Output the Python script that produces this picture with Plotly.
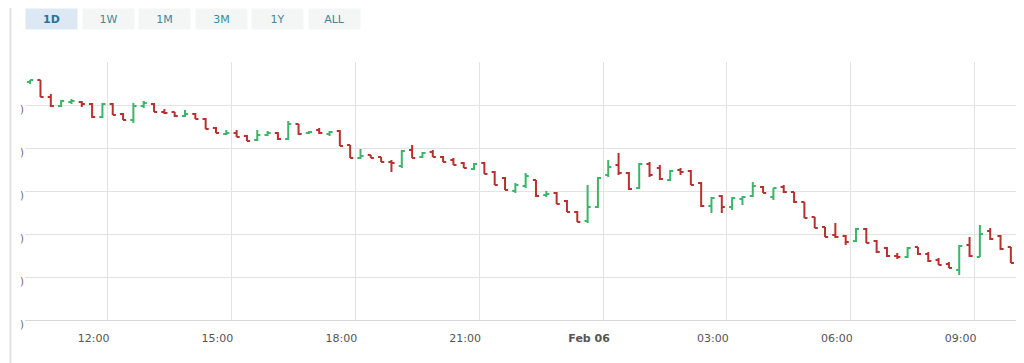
import pandas as pd
import plotly.graph_objects as go

# 15-minute bars, Feb 05 10:00 -> Feb 06 09:45
times = pd.date_range("2024-02-05 10:00", periods=96, freq="15min")

open_ = [23.8, 24.0, 22.3, 21.4, 21.8, 21.8, 21.6, 20.3, 21.6, 20.6, 20.0, 21.4,
         21.6, 20.8, 20.8, 20.4, 20.6, 20.1, 19.2, 18.6, 18.7, 18.4, 18.0, 18.5,
         18.7, 18.1, 19.6, 18.7, 19.0, 18.6, 18.9, 17.5, 16.2, 16.5, 16.3, 15.8,
         15.4, 17.0, 16.3, 16.8, 16.3, 16.0, 15.7, 15.1, 15.7, 14.8, 14.2, 12.9,
         13.4, 14.0, 12.5, 12.7, 11.9, 10.8, 9.9, 11.3, 14.5, 15.5, 14.7, 13.2,
         15.6, 15.2, 14.0, 15.0, 14.9, 13.7, 11.4, 12.4, 11.3, 12.1, 12.4, 13.3,
         12.3, 13.3, 12.8, 11.8, 10.3, 9.3, 8.5, 8.4, 7.9, 9.1, 7.9, 7.2,
         6.4, 6.3, 7.3, 6.6, 6.0, 5.6, 5.0, 7.5, 6.3, 8.9, 8.4, 7.3]
high = [24.0, 24.0, 22.6, 22.0, 22.1, 21.9, 21.7, 21.7, 21.7, 20.7, 21.7, 21.9,
        21.7, 21.1, 20.8, 21.0, 20.7, 20.2, 19.3, 19.0, 19.0, 18.5, 19.0, 18.9,
        18.8, 19.9, 19.6, 18.9, 19.2, 18.9, 19.0, 17.5, 17.1, 16.5, 16.3, 16.0,
        17.0, 17.5, 16.8, 17.0, 16.4, 16.2, 15.8, 15.7, 15.8, 14.9, 14.3, 13.7,
        14.7, 14.0, 12.9, 12.8, 12.0, 10.9, 13.5, 14.3, 16.0, 16.7, 14.8, 15.7,
        15.8, 15.5, 15.0, 15.2, 15.0, 13.8, 12.3, 12.5, 12.3, 12.4, 13.8, 13.4,
        13.2, 13.5, 12.8, 11.8, 10.3, 9.3, 9.7, 8.5, 9.2, 9.2, 8.0, 7.3,
        6.7, 7.3, 7.3, 6.8, 6.2, 5.8, 7.5, 8.3, 9.5, 9.2, 8.5, 7.3]
low = [23.6, 22.3, 21.3, 21.3, 21.6, 21.3, 20.2, 20.2, 20.5, 20.0, 19.7, 21.2,
       20.8, 20.6, 20.3, 20.3, 20.1, 19.1, 18.7, 18.5, 18.3, 17.9, 17.9, 18.4,
       18.0, 18.0, 18.5, 18.6, 18.6, 18.4, 17.4, 16.2, 16.1, 16.2, 15.8, 14.8,
       15.2, 16.2, 16.2, 16.3, 15.8, 15.5, 15.2, 15.0, 14.6, 13.5, 13.0, 12.7,
       13.2, 12.3, 12.3, 11.6, 10.8, 9.8, 9.7, 11.2, 14.3, 14.5, 13.0, 13.1,
       14.3, 14.0, 13.9, 14.5, 13.5, 11.3, 10.7, 10.7, 11.0, 11.5, 12.3, 12.7,
       12.0, 12.7, 11.7, 10.2, 9.2, 8.3, 8.2, 7.5, 7.8, 7.7, 6.7, 6.3,
       6.1, 6.2, 6.5, 5.8, 5.5, 5.2, 4.5, 6.3, 6.3, 8.0, 7.0, 5.7]
close = [24.0, 22.3, 21.4, 21.9, 21.9, 21.6, 20.3, 21.6, 20.5, 20.0, 21.4, 21.7,
         20.8, 20.7, 20.4, 20.6, 20.1, 19.1, 18.7, 18.7, 18.3, 17.9, 18.5, 18.7,
         18.1, 19.6, 18.6, 18.8, 18.7, 18.8, 17.4, 16.2, 16.4, 16.2, 15.8, 15.7,
         16.9, 16.2, 16.7, 16.3, 15.8, 15.5, 15.2, 15.6, 14.6, 13.5, 13.0, 13.5,
         14.4, 12.4, 12.6, 11.6, 10.8, 9.8, 11.3, 14.2, 15.3, 14.7, 13.1, 15.6,
         14.5, 14.1, 14.9, 14.8, 13.5, 11.4, 12.2, 11.3, 12.2, 12.3, 13.4, 12.7,
         13.2, 12.8, 11.8, 10.2, 9.2, 8.3, 8.3, 7.8, 9.1, 7.7, 6.8, 6.4,
         6.3, 7.2, 6.6, 5.9, 5.5, 5.2, 7.4, 6.4, 8.6, 8.1, 7.1, 5.7]

x_tick_vals = ["2024-02-05 12:00", "2024-02-05 15:00", "2024-02-05 18:00",
               "2024-02-05 21:00", "2024-02-06 00:00", "2024-02-06 03:00",
               "2024-02-06 06:00", "2024-02-06 09:00"]
x_tick_text = ["12:00", "15:00", "18:00", "21:00", "<b>Feb 06</b>",
               "03:00", "06:00", "09:00"]
y_tick_vals = [0, 4.3, 8.6, 12.9, 17.2, 21.5, 25.8]
y_tick_text = [")", ")", ")", ")", ")", ")", ""]
buttons = ["1D", "1W", "1M", "3M", "1Y", "ALL"]

fig = go.Figure(go.Ohlc(
    x=times, open=open_, high=high, low=low, close=close,
    xperiod=900000, xperiodalignment="middle",
    increasing=dict(line=dict(color="#3cb56a", width=2)),
    decreasing=dict(line=dict(color="#b8312f", width=2)),
    tickwidth=0.3, showlegend=False,
))

W = 991.0  # plot width in px
H = 258.0  # plot height in px
for i, b in enumerate(buttons):
    cx = 51.5 + i * 56.6
    sel = i == 0
    fig.add_annotation(
        xref="paper", yref="paper", x=(cx - 25) / W, y=(320 - 19) / H,
        xanchor="center", yanchor="middle", showarrow=False,
        text=f"<b>{b}</b>" if sel else b,
        width=51, height=20, borderpad=0,
        bgcolor="#dce9f5" if sel else "#f4f5f5",
        font=dict(family="DejaVu Sans", size=11,
                  color="#2f6f9a" if sel else "#3f8a96"),
    )

fig.add_shape(type="line", xref="paper", yref="paper",
              x0=(10.5 - 25) / W, x1=(10.5 - 25) / W, y0=-0.2, y1=1.3,
              line=dict(color="#e3e3e3", width=2))

# page body has an 8px margin, so the figure is drawn from (8, 8)
fig.update_layout(
    width=1016, height=355,
    margin=dict(l=17, r=8, t=54, b=43),
    paper_bgcolor="white", plot_bgcolor="white",
    font=dict(family="DejaVu Sans", size=11, color="#666666"),
    xaxis=dict(
        range=["2024-02-05 10:00", "2024-02-06 10:00"],
        rangeslider=dict(visible=False),
        tickmode="array", tickvals=x_tick_vals, ticktext=x_tick_text,
        showgrid=True, gridcolor="#e3e3e3", gridwidth=1,
        showline=True, linecolor="#d6d6d6", linewidth=1,
        ticks="", ticklabelstandoff=8, ticklabelshift=-14,
        tickfont=dict(size=11, color="#555555"),
        zeroline=False,
    ),
    yaxis=dict(
        range=[0, 25.8],
        tickmode="array", tickvals=y_tick_vals, ticktext=y_tick_text,
        showgrid=True, gridcolor="#e3e3e3", gridwidth=1,
        showline=False, zeroline=False, ticks="",
        ticklabelstandoff=0, ticklabelshift=4,
        tickfont=dict(size=10, color="#666666"),
    ),
)

fig.write_html("out.html")
